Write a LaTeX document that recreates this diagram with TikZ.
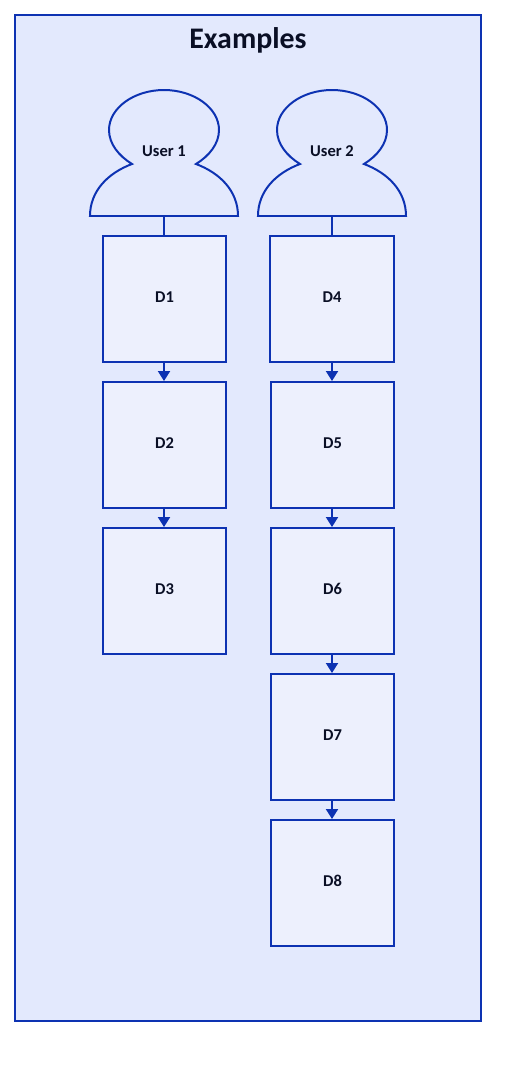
\documentclass[tikz,border=0pt]{standalone}
\usepackage{fontspec}
\setmainfont{Carlito}
\usetikzlibrary{arrows.meta}
\definecolor{strokeblue}{HTML}{0D32B2}
\definecolor{framefill}{HTML}{E3E9FD}
\definecolor{boxfill}{HTML}{EDF0FD}
\definecolor{textnavy}{HTML}{0A0F25}
\tikzset{
	wire/.style={draw=strokeblue, line width=1.13pt},
	link/.style={wire, -{Triangle[length=0.2cm, width=0.24cm]}},
	frame/.style={shape=rectangle, wire, fill=framefill, minimum width=9.32cm, minimum height=20.12cm},
	title/.style={anchor=center, text=textnavy, font=\fontsize{17}{18}\selectfont\bfseries},
	docbox/.style={shape=rectangle, wire, fill=boxfill, minimum width=2.46cm, minimum height=2.52cm, text=textnavy, text depth=2.27pt, font=\fontsize{9.4}{10}\selectfont\bfseries},
	usernode/.style={shape=rectangle, minimum width=2.96cm, minimum height=2.52cm, text=textnavy, text depth=2.27pt, font=\fontsize{9.4}{10}\selectfont\bfseries}
}
\newcommand{\usershape}[1]{
	\draw[wire, shift={(#1.center)}] (-74,63) .. controls (-74,38) and (-56,20) .. (-32,11)
		.. controls (-45,3) and (-55,-9) .. (-55,-23)
		.. controls (-55,-45) and (-30,-63) .. (0,-63)
		.. controls (30,-63) and (55,-45) .. (55,-23)
		.. controls (55,-9) and (45,3) .. (32,11)
		.. controls (56,20) and (74,38) .. (74,63) -- cycle;
}
\begin{document}
\begin{tikzpicture}[x=0.02cm, y=-0.02cm]
	\useasboundingbox (0,0) rectangle (512,1068);
	% Frame and title:
	\node[frame] (Frame) at (248,518){};
	\node[title] (Title) at (248,40.5){Examples};
	% Users:
	\node[usernode] (U1) at (164,153){User 1};
	\node[usernode] (U2) at (332,153){User 2};
	\usershape{U1}
	\usershape{U2}
	% Boxes:
	\node[docbox] (D1) at (164.5,299){D1};
	\node[docbox] (D2) at (164.5,445){D2};
	\node[docbox] (D3) at (164.5,591){D3};
	\node[docbox, minimum width=2.48cm] (D4) at (332,299){D4};
	\node[docbox] (D5) at (332.5,445){D5};
	\node[docbox] (D6) at (332.5,591){D6};
	\node[docbox] (D7) at (332.5,737){D7};
	\node[docbox] (D8) at (332.5,883){D8};
	% Wires:
	\draw[wire] (U1.south) -- (U1.south |- D1.north);
	\draw[wire] (U2.south) -- (U2.south |- D4.north);
	\draw[link] (U1.south |- D1.south) -- (U1.south |- D2.north);
	\draw[link] (U1.south |- D2.south) -- (U1.south |- D3.north);
	\draw[link] (U2.south |- D4.south) -- (U2.south |- D5.north);
	\draw[link] (U2.south |- D5.south) -- (U2.south |- D6.north);
	\draw[link] (U2.south |- D6.south) -- (U2.south |- D7.north);
	\draw[link] (U2.south |- D7.south) -- (U2.south |- D8.north);
\end{tikzpicture}
\end{document}
